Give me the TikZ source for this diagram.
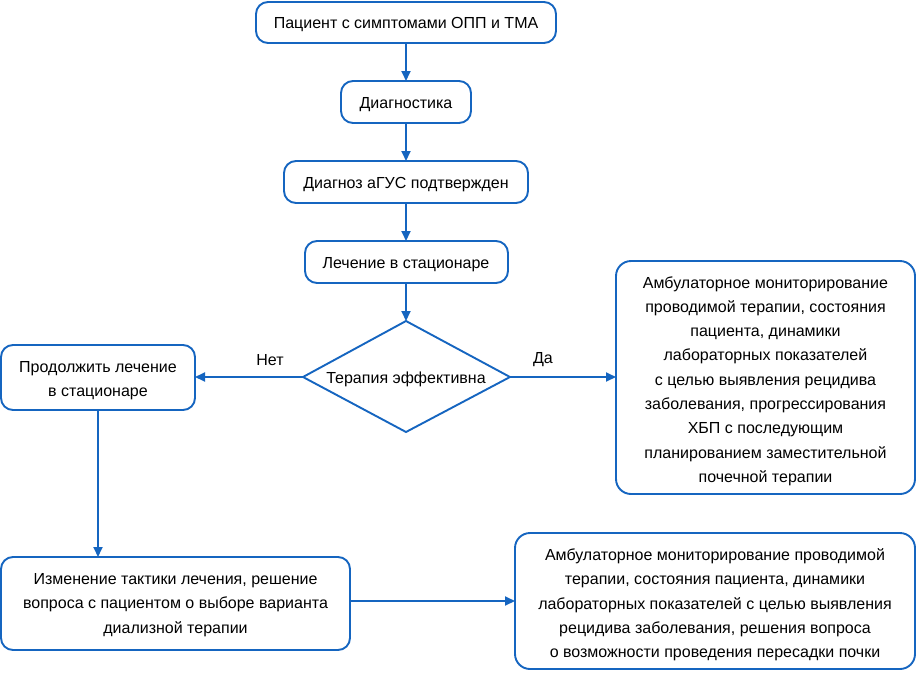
\documentclass[tikz,border=0pt]{standalone}
\usepackage{fontspec}
\setmainfont{Liberation Sans}
\usetikzlibrary{arrows.meta}
\definecolor{fblue}{HTML}{1565C0}
\tikzset{
  box/.style={draw=fblue, line width=1.9pt, rounded corners=12pt, fill=white},
  lbl/.style={font=\fontsize{16}{24.3}\selectfont, align=center, text=black},
  arr/.style={draw=fblue, line width=1.9pt, -{Triangle[length=10pt,width=9pt]}},
}
\begin{document}
\begin{tikzpicture}[x=1pt,y=-1pt]
\useasboundingbox (0,0) rectangle (916,675);
% boxes
\draw[box] (256,2) rectangle (556,43);
\node[lbl] (a) at (406,25) {Пациент с симптомами ОПП и ТМА};
\coordinate (aS) at (406,43);
\draw[box] (341,81) rectangle (471,123);
\node[lbl] (b) at (406,104.5) {Диагностика};
\coordinate (bN) at (406,81); \coordinate (bS) at (406,123);
\draw[box] (284,161) rectangle (528,203);
\node[lbl] (c) at (406,184.5) {Диагноз аГУС подтвержден};
\coordinate (cN) at (406,161); \coordinate (cS) at (406,203);
\draw[box] (305,241) rectangle (508,283);
\node[lbl] (d) at (406,264.5) {Лечение в стационаре};
\coordinate (dN) at (406,241); \coordinate (dS) at (406,283);
% diamond
\draw[draw=fblue, line width=1.9pt, fill=white] (406,321) coordinate (eN) -- (510,377) coordinate (eE) -- (406,432) -- (303,377) coordinate (eW) -- cycle;
\node[lbl] (e) at (406,379.5) {Терапия эффективна};
% left box
\draw[box] (1,345) rectangle (195,410);
\node[lbl] (f) at (98,380.5) {Продолжить лечение\\в стационаре};
\coordinate (fE) at (195,377); \coordinate (fS) at (98,410);
% right box
\draw[box, rounded corners=15pt] (616,261) rectangle (915,494);
\node[lbl] (g) at (765.5,381) {Амбулаторное мониторирование\\проводимой терапии, состояния\\пациента, динамики\\лабораторных показателей\\с целью выявления рецидива\\заболевания, прогрессирования\\ХБП с последующим\\планированием заместительной\\почечной терапии};
\coordinate (gW) at (616,377);
% bottom left
\draw[box] (1,557) rectangle (350,650);
\node[lbl] (h) at (175.5,605) {Изменение тактики лечения, решение\\вопроса с пациентом о выборе варианта\\диализной терапии};
\coordinate (hN) at (98,557); \coordinate (hE) at (350,601);
% bottom right
\draw[box, rounded corners=15pt] (515,533) rectangle (915,669);
\node[lbl] (i) at (715,605) {Амбулаторное мониторирование проводимой\\терапии, состояния пациента, динамики\\лабораторных показателей с целью выявления\\рецидива заболевания, решения вопроса\\о возможности проведения пересадки почки};
\coordinate (iW) at (515,601);
% arrows
\draw[arr] (aS) -- (bN);
\draw[arr] (bS) -- (cN);
\draw[arr] (cS) -- (dN);
\draw[arr] (dS) -- (eN);
\draw[arr] (eW) -- (fE);
\draw[arr] (eE) -- (gW);
\draw[arr] (fS) -- (hN);
\draw[arr] (hE) -- (iW);
\node[lbl] (net) at (270,360) {Нет};
\node[lbl] (da) at (543,360) {Да};
\end{tikzpicture}
\end{document}
